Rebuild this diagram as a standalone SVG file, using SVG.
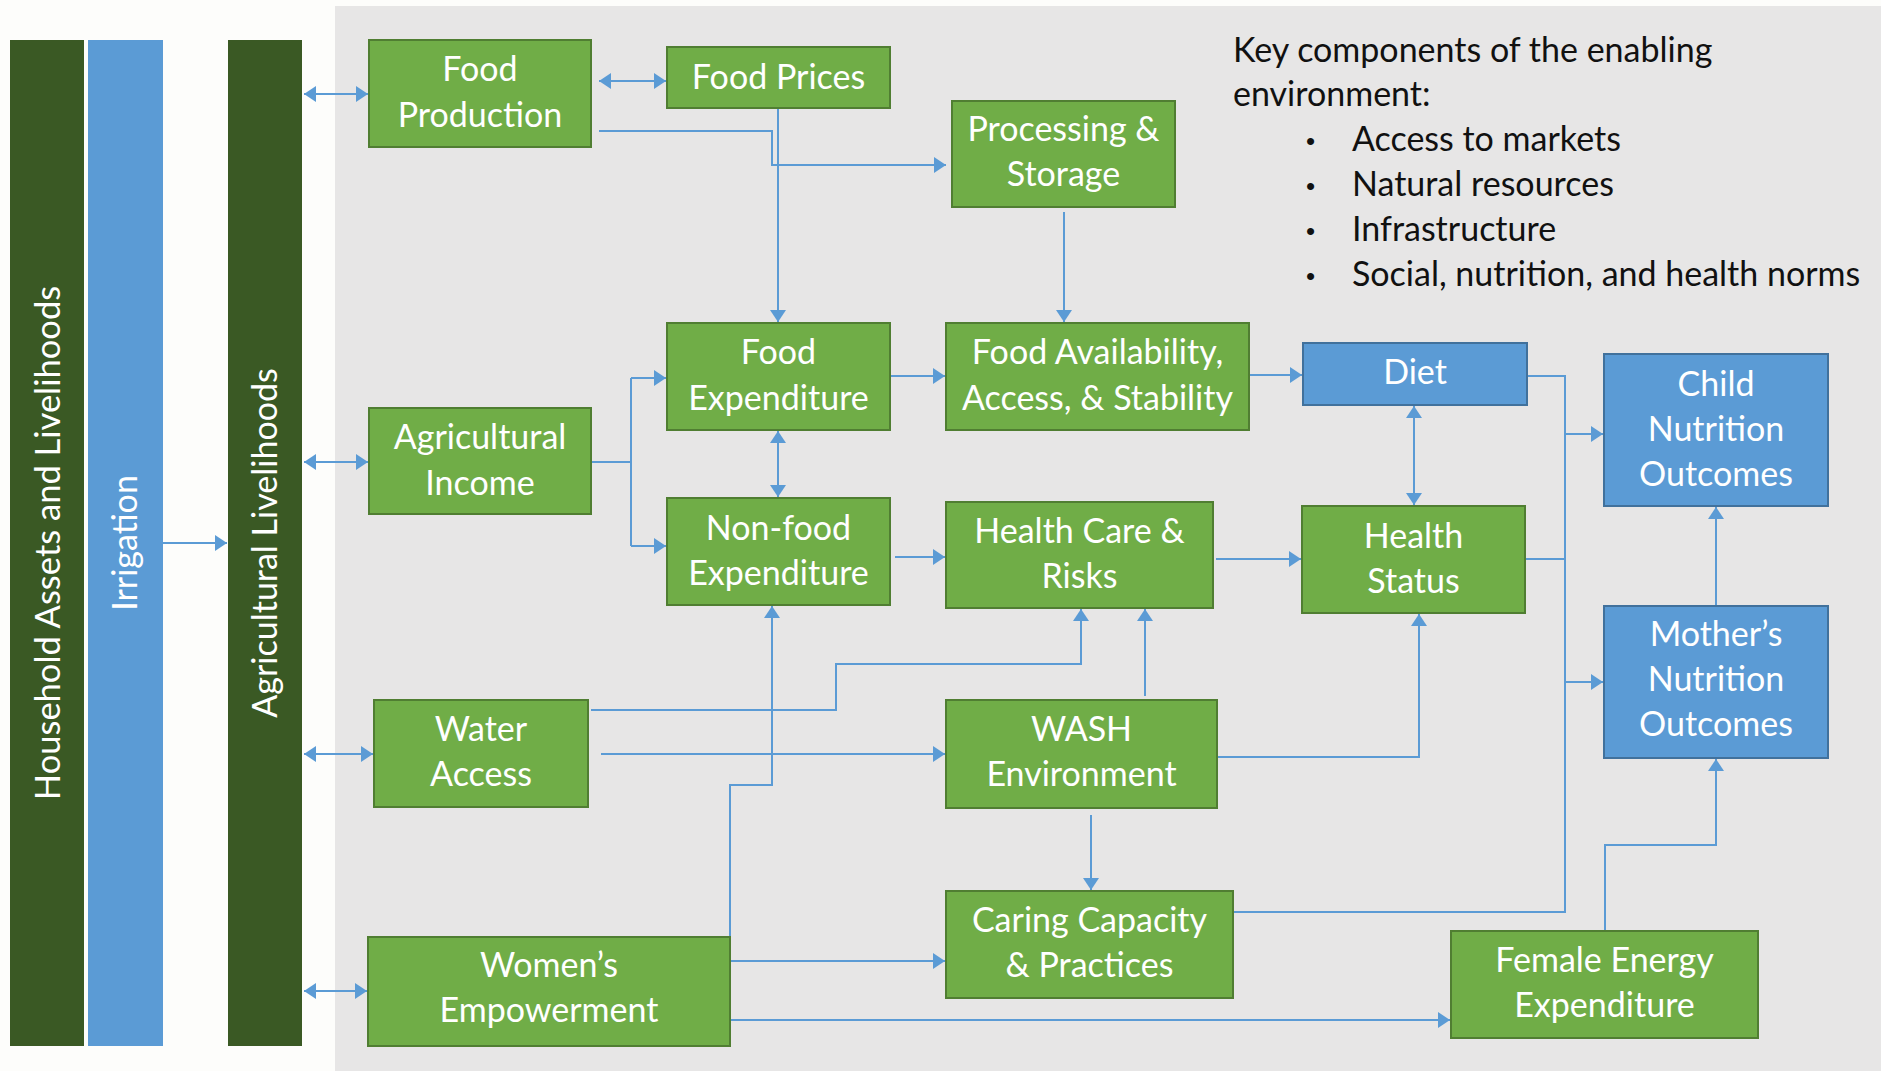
<svg xmlns="http://www.w3.org/2000/svg" width="1881" height="1071" viewBox="0 0 1881 1071">
<style>
.g{fill:#70ad47;stroke:#507e32;stroke-width:2}
.b{fill:#5b9bd5;stroke:#41719c;stroke-width:2}
.bar{fill:#3a5924}
.t{font-family:Lato,"Liberation Sans",sans-serif;font-size:34px;fill:#ffffff;text-anchor:middle}
.k{font-family:Lato,"Liberation Sans",sans-serif;font-size:34px;fill:#111111}
.u{font-family:"Liberation Sans",sans-serif;font-size:26px;fill:#111111}
.c path{fill:none;stroke:#5b9bd5;stroke-width:2}
.c .s{marker-start:url(#ah)}
.c .e{marker-end:url(#ah)}
</style>
<defs>
<marker id="ah" viewBox="0 0 12 16" refX="12" refY="8" markerWidth="12" markerHeight="16" markerUnits="userSpaceOnUse" orient="auto-start-reverse"><path d="M0,0 L12,8 L0,16 z" fill="#5b9bd5"/></marker>
</defs>
<rect x="0" y="0" width="1881" height="1071" fill="#fdfdfb"/>
<rect x="335" y="6" width="1546" height="1065" fill="#e7e6e6"/>

<g id="household-assets">
<rect class="bar" x="10" y="40" width="74" height="1006"/>
<text class="t" style="font-size:34.5px" transform="translate(60,543) rotate(-90)">Household Assets and Livelihoods</text>
</g>
<g id="irrigation">
<rect x="88" y="40" width="75" height="1006" fill="#5b9bd5"/>
<text class="t" transform="translate(137,543) rotate(-90)">Irrigation</text>
</g>
<g id="agricultural-livelihoods">
<rect class="bar" x="228" y="40" width="74" height="1006"/>
<text class="t" transform="translate(277,543) rotate(-90)">Agricultural Livelihoods</text>
</g>

<g class="c" id="connectors">
<path class="s e" d="M304,94 H368"/>
<path class="s e" d="M304,462 H368"/>
<path class="s e" d="M304,754 H373"/>
<path class="s e" d="M304,991 H367"/>
<path class="e" d="M163,543 H227"/>
<path class="s e" d="M599,81 H666"/>
<path class="e" d="M599,131 H772 V165 H946"/>
<path class="e" d="M778,108 V322"/>
<path class="e" d="M1064,212 V322"/>
<path class="e" d="M890,376 H945"/>
<path class="e" d="M1249,375 H1302"/>
<path class="s e" d="M778,431 V497"/>
<path d="M591,462 H631 M631,378 V546"/>
<path class="e" d="M631,378 H666"/>
<path class="e" d="M631,546 H666"/>
<path class="e" d="M895,557 H945"/>
<path class="e" d="M1216,559 H1301"/>
<path class="s e" d="M1414,406 V505"/>
<path d="M1527,376 H1565 V912 H1233 M1525,559 H1565"/>
<path class="e" d="M1565,434 H1603"/>
<path class="e" d="M1565,682 H1603"/>
<path class="e" d="M1716,606 V507"/>
<path class="e" d="M1605,931 V845 H1716 V759"/>
<path class="e" d="M591,710 H836 V664 H1081 V609"/>
<path class="e" d="M601,754 H945"/>
<path class="e" d="M1145,696 V609"/>
<path class="e" d="M1217,757 H1419 V614"/>
<path class="e" d="M1091,815 V890"/>
<path class="e" d="M730,937 V785 H772 V606"/>
<path class="e" d="M730,961 H945"/>
<path class="e" d="M730,1020 H1450"/>
</g>

<g id="food-production"><rect class="g" x="369" y="40" width="222" height="107"/><text class="t" x="480" y="81">Food</text><text class="t" x="480" y="127">Production</text></g>
<g id="food-prices"><rect class="g" x="667" y="47" width="223" height="61"/><text class="t" x="778.5" y="89">Food Prices</text></g>
<g id="processing-storage"><rect class="g" x="952" y="101" width="223" height="106"/><text class="t" x="1063.5" y="141">Processing &amp;</text><text class="t" x="1063.5" y="186">Storage</text></g>
<g id="food-expenditure"><rect class="g" x="667" y="323" width="223" height="107"/><text class="t" x="778.5" y="364">Food</text><text class="t" x="778.5" y="410">Expenditure</text></g>
<g id="food-availability"><rect class="g" x="946" y="323" width="303" height="107"/><text class="t" x="1097.5" y="364">Food Availability,</text><text class="t" x="1097.5" y="410">Access, &amp; Stability</text></g>
<g id="agricultural-income"><rect class="g" x="369" y="408" width="222" height="106"/><text class="t" x="480" y="449">Agricultural</text><text class="t" x="480" y="495">Income</text></g>
<g id="diet"><rect class="b" x="1303" y="343" width="224" height="62"/><text class="t" x="1415" y="384">Diet</text></g>
<g id="child-nutrition"><rect class="b" x="1604" y="354" width="224" height="152"/><text class="t" x="1716" y="396">Child</text><text class="t" x="1716" y="441">Nutrition</text><text class="t" x="1716" y="486">Outcomes</text></g>
<g id="non-food-expenditure"><rect class="g" x="667" y="498" width="223" height="107"/><text class="t" x="778.5" y="540">Non-food</text><text class="t" x="778.5" y="585">Expenditure</text></g>
<g id="health-care"><rect class="g" x="946" y="502" width="267" height="106"/><text class="t" x="1079.5" y="543">Health Care &amp;</text><text class="t" x="1079.5" y="588">Risks</text></g>
<g id="health-status"><rect class="g" x="1302" y="506" width="223" height="107"/><text class="t" x="1413.5" y="548">Health</text><text class="t" x="1413.5" y="593">Status</text></g>
<g id="water-access"><rect class="g" x="374" y="700" width="214" height="107"/><text class="t" x="481" y="741">Water</text><text class="t" x="481" y="786">Access</text></g>
<g id="wash-environment"><rect class="g" x="946" y="700" width="271" height="108"/><text class="t" x="1081.5" y="741">WASH</text><text class="t" x="1081.5" y="786">Environment</text></g>
<g id="mothers-nutrition"><rect class="b" x="1604" y="606" width="224" height="152"/><text class="t" x="1716" y="646">Mother’s</text><text class="t" x="1716" y="691">Nutrition</text><text class="t" x="1716" y="736">Outcomes</text></g>
<g id="caring-capacity"><rect class="g" x="946" y="891" width="287" height="107"/><text class="t" x="1089.5" y="932">Caring Capacity</text><text class="t" x="1089.5" y="977">&amp; Practices</text></g>
<g id="womens-empowerment"><rect class="g" x="368" y="937" width="362" height="109"/><text class="t" x="549" y="977">Women’s</text><text class="t" x="549" y="1022">Empowerment</text></g>
<g id="female-energy"><rect class="g" x="1451" y="931" width="307" height="107"/><text class="t" x="1604.5" y="972">Female Energy</text><text class="t" x="1604.5" y="1017">Expenditure</text></g>

<g id="key-components">
<text class="k" x="1233" y="62">Key components of the enabling</text>
<text class="k" x="1233" y="106">environment:</text>
<text class="u" x="1306" y="150">•</text><text class="k" x="1352" y="151">Access to markets</text>
<text class="u" x="1306" y="195">•</text><text class="k" x="1352" y="196">Natural resources</text>
<text class="u" x="1306" y="240">•</text><text class="k" x="1352" y="241">Infrastructure</text>
<text class="u" x="1306" y="285">•</text><text class="k" x="1352" y="286">Social, nutrition, and health norms</text>
</g>
</svg>
